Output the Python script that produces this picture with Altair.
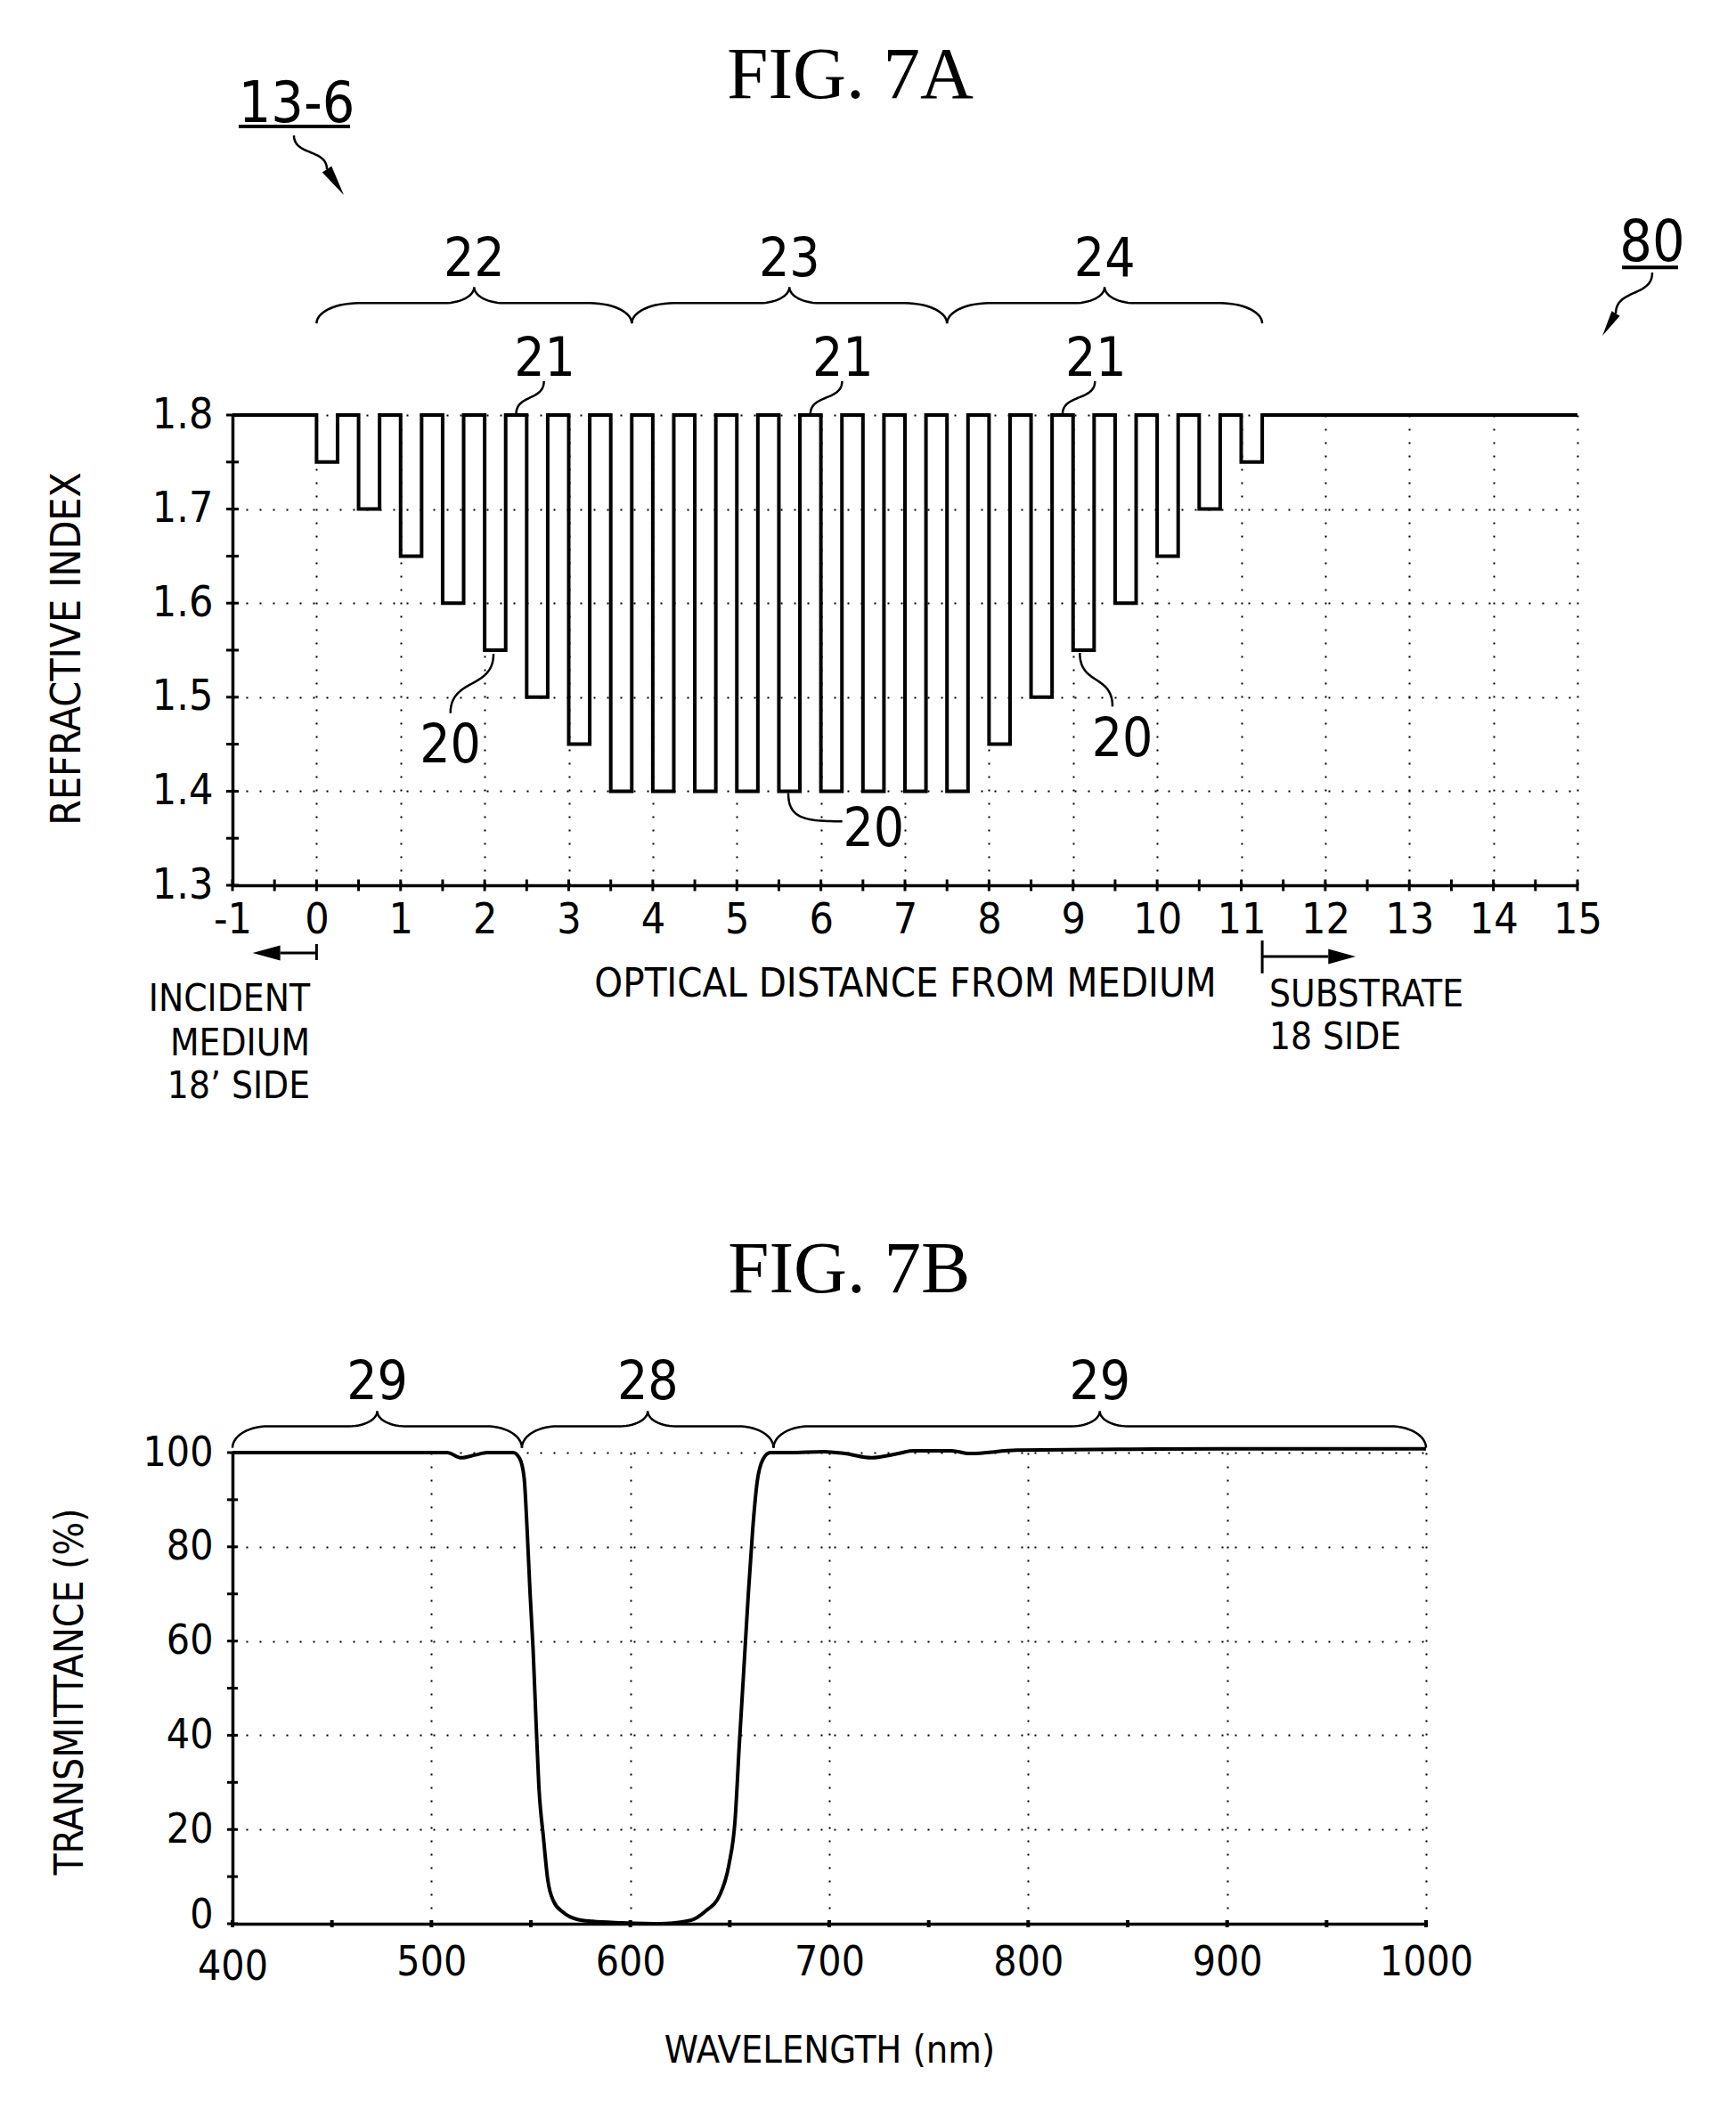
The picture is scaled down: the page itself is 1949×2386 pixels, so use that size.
import math
import altair as alt
import pandas as pd

NARROW = "Liberation Sans Narrow, Arial Narrow, DejaVu Sans Condensed, Liberation Sans, sans-serif"
SERIF = "Liberation Serif, Times New Roman, serif"

# ======================= FIG. 7A data =======================
a_x_domain = [-1, 15]
a_y_domain = [1.3, 1.8]
high_index = 1.8
layer_thickness = 0.25
well_start = [0.0, 0.5, 1.0, 1.5, 2.0, 2.5, 3.0, 3.5, 4.0, 4.5, 5.0, 5.5,
              6.0, 6.5, 7.0, 7.5, 8.0, 8.5, 9.0, 9.5, 10.0, 10.5, 11.0]
well_index = [1.75, 1.70, 1.65, 1.60, 1.55, 1.50, 1.45, 1.40, 1.40, 1.40, 1.40, 1.40,
              1.40, 1.40, 1.40, 1.40, 1.45, 1.50, 1.55, 1.60, 1.65, 1.70, 1.75]
a_x_labels = [-1, 0, 1, 2, 3, 4, 5, 6, 7, 8, 9, 10, 11, 12, 13, 14, 15]
a_x_ticks = [-1.0, -0.5, 0.0, 0.5, 1.0, 1.5, 2.0, 2.5, 3.0, 3.5, 4.0, 4.5, 5.0, 5.5,
             6.0, 6.5, 7.0, 7.5, 8.0, 8.5, 9.0, 9.5, 10.0, 10.5, 11.0, 11.5, 12.0,
             12.5, 13.0, 13.5, 14.0, 14.5, 15.0]
a_y_labels = [1.3, 1.4, 1.5, 1.6, 1.7, 1.8]
a_y_ticks = [1.3, 1.35, 1.4, 1.45, 1.5, 1.55, 1.6, 1.65, 1.7, 1.75, 1.8]

a_brace_start = [0.0, 3.75, 7.5]
a_brace_end = [3.75, 7.5, 11.25]
a_brace_label = ["22", "23", "24"]
a_brace_levels = [1.8975, 1.919, 1.936]     # end, line, tip
a_brace_label_y = 1.948

label21_x = [2.715, 6.262, 9.27]
label21_y = 1.842
lead21_end_x = [2.375, 5.875, 8.875]

label20_x = [1.591, 6.626, 9.585]
label20_y = [1.4307, 1.3417, 1.4375]

# ======================= FIG. 7B data =======================
b_x_domain = [400, 1000]
b_y_domain = [0, 100]
wavelength_nm = [400, 450, 500, 508, 515, 522, 528, 535, 541,
                 544.3, 546.6, 548.1, 549.6, 551.1, 552.6, 554.0, 556.3, 558.5, 561.5,
                 566.0, 573.5, 580.9, 595.8, 615.2,
                 630.2, 637.6, 645.1, 649.6, 652.6, 654.8, 657.0, 659.3, 661.5, 663.7,
                 666.7, 670.4, 680, 697.3, 707.8, 721.2, 734.7, 742.1, 761.5, 770.5,
                 794.3, 848, 900, 950, 1000]
transmittance = [100, 100, 100, 100, 98.9, 99.5, 100, 100, 100,
                 98.8, 94.7, 83.8, 70.2, 58.4, 42.9, 29.3, 18.4, 9.3, 4.7,
                 2.5, 0.9, 0.5, 0.2, 0.0,
                 0.7, 2.6, 6.2, 12.6, 21.7, 38.1, 53.6, 69.9, 83.6, 93.6,
                 98.6, 100, 100, 100.2, 99.8, 98.9, 99.8, 100.4, 100.4, 99.8,
                 100.5, 100.7, 100.8, 100.8, 100.8]
b_x_labels = [400, 500, 600, 700, 800, 900, 1000]
b_x_ticks = [400, 450, 500, 550, 600, 650, 700, 750, 800, 850, 900, 950, 1000]
b_y_labels = [0, 20, 40, 60, 80, 100]
b_y_ticks = [0, 10, 20, 30, 40, 50, 60, 70, 80, 90, 100]

b_brace_start = [400, 545.5, 672]
b_brace_end = [545.5, 672, 1000]
b_brace_label = ["29", "28", "29"]
b_brace_levels = [101.0, 105.6, 108.8]
b_brace_label_y = 111.3

# ======================= layout sizes =======================
TOP_W, TOP_H = 1510, 528
BOT_W, BOT_H = 1340, 529
A_PXX = TOP_W / (a_x_domain[1] - a_x_domain[0])
A_PXY = TOP_H / (a_y_domain[1] - a_y_domain[0])

HEAD_NARROW = "M0,-1L0.36,1L-0.36,1Z"
HEAD_WIDE = "M0,-1L0.55,1L-0.55,1Z"


# ======================= helpers =======================
def bezier(p0, c1, c2, p1, n=28):
    out = []
    for i in range(n + 1):
        t = i / n
        u = 1 - t
        out.append((u ** 3 * p0[0] + 3 * u * u * t * c1[0] + 3 * u * t * t * c2[0] + t ** 3 * p1[0],
                    u ** 3 * p0[1] + 3 * u * u * t * c1[1] + 3 * u * t * t * c2[1] + t ** 3 * p1[1]))
    return out


def s_curve(p0, p1, k=0.6):
    dy = p1[1] - p0[1]
    return bezier(p0, (p0[0], p0[1] + k * dy), (p1[0], p1[1] - k * dy), p1)


def l_curve(p0, p1):
    return bezier(p0, (p0[0], p0[1] + 0.9 * (p1[1] - p0[1])),
                  (p0[0] + 0.3 * (p1[0] - p0[0]), p1[1]), p1)


def brace(x0, x1, levels, hook, tipw, n=14):
    y_end, y_line, y_tip = levels
    xm = (x0 + x1) / 2
    left = []
    for i in range(n + 1):
        th = (math.pi / 2) * i / n
        left.append((x0 + hook * (1 - math.cos(th)), y_end + (y_line - y_end) * math.sin(th)))
    for i in range(n + 1):
        th = (math.pi / 2) * i / n
        left.append((xm - tipw + tipw * math.sin(th), y_line + (y_tip - y_line) * (1 - math.cos(th))))
    right = [(2 * xm - x, y) for (x, y) in reversed(left)]
    return left + right[1:]


def rows(name, pts):
    return [{"x": x, "y": y, "id": name, "o": k} for k, (x, y) in enumerate(pts)]


def head_row(end, tip, pxx, pxy):
    dx = (tip[0] - end[0]) * pxx
    dy = -(tip[1] - end[1]) * pxy
    L = math.hypot(dx, dy)
    ang = math.degrees(math.atan2(dx, -dy)) % 360
    return {"x": (end[0] + tip[0]) / 2, "y": (end[1] + tip[1]) / 2, "s": L * L, "a": ang}


def make_axis(values, title, title_size, **kw):
    return alt.Axis(values=values, title=title, grid=True, gridDash=[2, 13], gridColor="black",
                    gridWidth=2, gridOpacity=1, ticks=False, tickSize=0, domain=True,
                    domainColor="black", domainWidth=3.5, labelFont=NARROW, labelColor="black",
                    labelOverlap=False, labelFlush=False, titleFont=NARROW,
                    titleFontSize=title_size, titleFontWeight="normal", titleColor="black",
                    titleAlign="center", titleBaseline="alphabetic", **kw)


class Frame:
    def __init__(self, xs, ys, xa, ya):
        self.xs, self.ys, self.xa, self.ya = xs, ys, xa, ya

    def enc(self, xf="x", yf="y"):
        return dict(x=alt.X(xf + ":Q", scale=self.xs, axis=self.xa),
                    y=alt.Y(yf + ":Q", scale=self.ys, axis=self.ya))

    def line(self, df, width):
        return alt.Chart(df).mark_line(color="black", strokeWidth=width, clip=False).encode(
            detail="id:N", order=alt.Order("o:Q"), **self.enc())

    def text(self, df, font, size, align="center"):
        return alt.Chart(df).mark_text(font=font, fontSize=size, align=align,
                                       baseline="alphabetic", color="black", clip=False).encode(
            text="label:N", **self.enc())

    def heads(self, df, path):
        return alt.Chart(df).mark_point(shape=path, filled=True, color="black", opacity=1,
                                        strokeWidth=0, clip=False).encode(
            size=alt.Size("s:Q", scale=None), angle=alt.Angle("a:Q", scale=None), **self.enc())

    def ticks(self, df, orient, size, thick):
        return alt.Chart(df).mark_tick(orient=orient, size=size, thickness=thick,
                                       color="black", opacity=1).encode(**self.enc())


# ======================= FIG. 7A =======================
fa = Frame(
    alt.Scale(domain=a_x_domain, nice=False, zero=False),
    alt.Scale(domain=a_y_domain, nice=False, zero=False),
    make_axis(a_x_labels, "OPTICAL DISTANCE FROM MEDIUM", 45, labelFontSize=48, labelPadding=53,
              labelBaseline="alphabetic", labelAngle=0, labelExpr="'' + datum.value",
              titleX=TOP_W / 2, titleY=124, titleAngle=0),
    make_axis(a_y_labels, "REFRACTIVE INDEX", 46, labelFontSize=48, labelPadding=22,
              labelAlign="right", labelBaseline="middle", format=".1f",
              titleAngle=270, titleX=-172, titleY=262),
)

px, pn = [a_x_domain[0]], [high_index]
for s, d in zip(well_start, well_index):
    px += [s, s + layer_thickness]
    pn += [d, high_index]
px.append(a_x_domain[1])
pn.append(high_index)
profile = pd.DataFrame({"x": px, "y": pn})

profile_layer = alt.Chart(profile).mark_line(
    interpolate="step-after", color="black", strokeWidth=4, strokeJoin="miter", clip=False
).encode(**fa.enc())

a_xt = pd.DataFrame({"x": a_x_ticks, "y": [a_y_domain[0]] * len(a_x_ticks)})
a_yt = pd.DataFrame({"x": [a_x_domain[0]] * len(a_y_ticks), "y": a_y_ticks})

thin_a = []
for x0, x1, lab in zip(a_brace_start, a_brace_end, a_brace_label):
    thin_a += rows("brace" + lab, brace(x0, x1, a_brace_levels, 0.5, 0.36))
for i, (lx, ex) in enumerate(zip(label21_x, lead21_end_x)):
    thin_a += rows("l21_%d" % i, s_curve((lx - 0.01, 1.836), (ex, 1.801)))
thin_a += rows("l20_0", s_curve((1.593, 1.483), (2.105, 1.546)))
thin_a += rows("l20_1", l_curve((5.612, 1.398), (6.255, 1.368)))
thin_a += rows("l20_2", s_curve((9.469, 1.490), (9.08, 1.547)))
thin_a += rows("arr136", s_curve((-0.269, 2.0973), (0.1232, 2.0614)))
thin_a += rows("arr80", s_curve((15.89, 1.9515), (15.456, 1.908)))
thin_a_df = pd.DataFrame(thin_a)

mid_a = []
mid_a += rows("bar_inc", [(0.0, 1.2375), (0.0, 1.2205)])
mid_a += rows("shaft_inc", [(0.0, 1.228), (-0.432, 1.228)])
mid_a += rows("bar_sub", [(11.25, 1.2413), (11.25, 1.2063)])
mid_a += rows("shaft_sub", [(11.25, 1.2242), (12.036, 1.2242)])
mid_a_df = pd.DataFrame(mid_a)

under_a = []
under_a += rows("u136", [(-0.926, 2.1068), (0.399, 2.1068)])
under_a += rows("u80", [(15.53, 1.957), (16.197, 1.957)])
under_a_df = pd.DataFrame(under_a)

heads_narrow_a = pd.DataFrame([
    head_row((0.1232, 2.0614), (0.3245, 2.0339), A_PXX, A_PXY),
    head_row((15.456, 1.908), (15.297, 1.8843), A_PXX, A_PXY),
])
heads_wide_a = pd.DataFrame([
    head_row((-0.432, 1.228), (-0.76, 1.228), A_PXX, A_PXY),
    head_row((12.036, 1.2242), (12.361, 1.2242), A_PXX, A_PXY),
])

nums_a = pd.DataFrame(
    [{"x": (x0 + x1) / 2, "y": a_brace_label_y, "label": lab}
     for x0, x1, lab in zip(a_brace_start, a_brace_end, a_brace_label)]
    + [{"x": x, "y": label21_y, "label": "21"} for x in label21_x]
    + [{"x": x, "y": y, "label": "20"} for x, y in zip(label20_x, label20_y)]
)
refs_a = pd.DataFrame([{"x": -0.237, "y": 2.1116, "label": "13-6"},
                       {"x": 15.89, "y": 1.9638, "label": "80"}])
fig_a = pd.DataFrame([{"x": 6.35, "y": 2.137, "label": "FIG. 7A"}])
inc_a = pd.DataFrame({"x": [-0.078] * 3, "y": [1.1665, 1.1191, 1.0737],
                      "label": ["INCIDENT", "MEDIUM", "18\u2019 SIDE"]})
sub_a = pd.DataFrame({"x": [11.334] * 2, "y": [1.1712, 1.1258],
                      "label": ["SUBSTRATE", "18 SIDE"]})

top = alt.layer(
    profile_layer,
    fa.ticks(a_xt, "vertical", 13, 3),
    fa.ticks(a_yt, "horizontal", 14, 3),
    fa.line(thin_a_df, 2.5),
    fa.line(mid_a_df, 3),
    fa.line(under_a_df, 4),
    fa.heads(heads_narrow_a, HEAD_NARROW),
    fa.heads(heads_wide_a, HEAD_WIDE),
    fa.text(nums_a, NARROW, 60),
    fa.text(refs_a, NARROW, 64),
    fa.text(fig_a, SERIF, 83),
    fa.text(inc_a, NARROW, 42, "right"),
    fa.text(sub_a, NARROW, 42, "left"),
).properties(width=TOP_W, height=TOP_H)

# ======================= FIG. 7B =======================
fb = Frame(
    alt.Scale(domain=b_x_domain, nice=False, zero=False),
    alt.Scale(domain=b_y_domain, nice=False, zero=False),
    make_axis(b_x_labels, "WAVELENGTH (nm)", 43, labelFontSize=46,
              labelPadding={"condition": {"test": "datum.value === 400", "value": 62}, "value": 57},
              labelBaseline="alphabetic", labelAngle=0, format="d",
              titleX=BOT_W / 2, titleY=155, titleAngle=0),
    make_axis(b_y_labels, "TRANSMITTANCE (%)", 44, labelFontSize=46, labelPadding=22,
              labelOffset={"condition": {"test": "datum.value === 0", "value": -10}, "value": 0},
              labelAlign="right", labelBaseline="middle", format="d",
              titleAngle=270, titleX=-169, titleY=268),
)

spectrum = pd.DataFrame({"x": wavelength_nm, "y": transmittance})
spectrum_layer = alt.Chart(spectrum).mark_line(
    interpolate="monotone", color="black", strokeWidth=4, clip=False
).encode(**fb.enc())

b_xt = pd.DataFrame({"x": b_x_ticks, "y": [b_y_domain[0]] * len(b_x_ticks)})
b_yt = pd.DataFrame({"x": [b_x_domain[0]] * len(b_y_ticks), "y": b_y_ticks})

thin_b = []
for i, (x0, x1) in enumerate(zip(b_brace_start, b_brace_end)):
    thin_b += rows("bb%d" % i, brace(x0, x1, b_brace_levels, 18, 14))
thin_b_df = pd.DataFrame(thin_b)

nums_b = pd.DataFrame([{"x": (x0 + x1) / 2, "y": b_brace_label_y, "label": lab}
                       for x0, x1, lab in zip(b_brace_start, b_brace_end, b_brace_label)])
fig_b = pd.DataFrame([{"x": 710, "y": 134, "label": "FIG. 7B"}])

bottom = alt.layer(
    spectrum_layer,
    fb.ticks(b_xt, "vertical", 8, 4),
    fb.ticks(b_yt, "horizontal", 12, 3),
    fb.line(thin_b_df, 2.5),
    fb.text(nums_b, NARROW, 60),
    fb.text(fig_b, SERIF, 83),
).properties(width=BOT_W, height=BOT_H)

chart = alt.vconcat(top, bottom, spacing=637, bounds="flush").properties(
    padding={"left": 44, "top": 36, "right": 5, "bottom": 5},
    background="white",
).configure_view(strokeWidth=0)

chart.save("out.html", embed_options={"renderer": "svg", "actions": False})
